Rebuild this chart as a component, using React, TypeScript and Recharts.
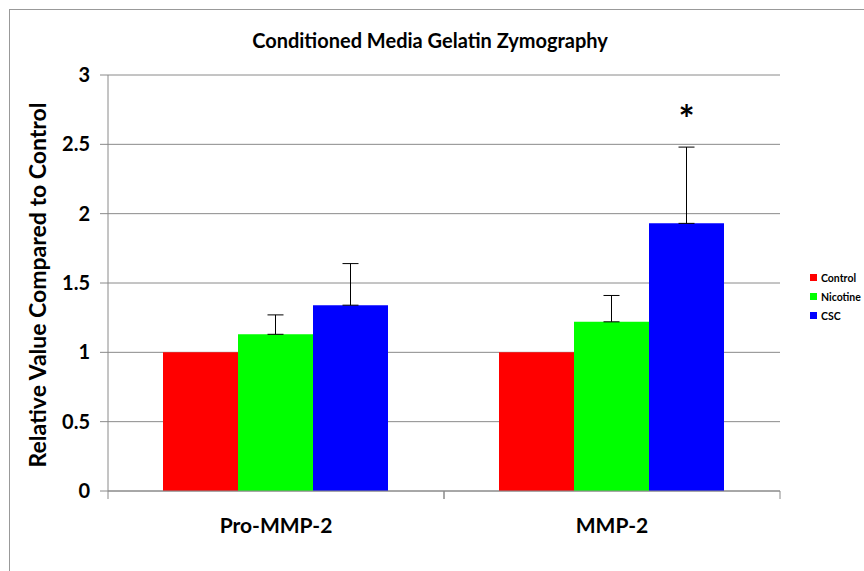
import { BarChart, Bar, XAxis, YAxis, CartesianGrid, ErrorBar, LabelList } from "recharts";

const categories = ["Pro-MMP-2", "MMP-2"];
const control = [1, 1];
const nicotine = [1.13, 1.22];
const nicotineErr = [0.14, 0.19];
const csc = [1.34, 1.93];
const cscErr = [0.3, 0.55];
const marks = ["", "*"];
const yTicks = [0, 0.5, 1, 1.5, 2, 2.5, 3];

const data = categories.map((c, i) => ({
  name: c,
  control: control[i],
  nicotine: nicotine[i],
  nicotineErr: [0, nicotineErr[i]],
  csc: csc[i],
  cscErr: [0, cscErr[i]],
  mark: marks[i],
}));

const font = "Lato, 'Open Sans', sans-serif";
const axisGray = "#8a8a8a";
const BAND = 336;

function XTick(props: any) {
  const { x, y, payload } = props;
  return (
    <g>
      <line x1={x - BAND / 2} y1={y - 8} x2={x - BAND / 2} y2={y} stroke={axisGray} />
      <line x1={x + BAND / 2} y1={y - 8} x2={x + BAND / 2} y2={y} stroke={axisGray} />
      <text x={x} y={y + 34} textAnchor="middle" fontSize={21} fontWeight="bold" fill="#000" fontFamily={font}>
        {payload.value}
      </text>
    </g>
  );
}

function Star(props: any) {
  const { x, y, width, value } = props;
  if (!value) return null;
  return (
    <text x={x + width / 2} y={y - 90} textAnchor="middle" fontSize={38} fontWeight="bold" fill="#000" fontFamily={font}>
      {value}
    </text>
  );
}

const legendItems = [
  { label: "Control", color: "#ff0000" },
  { label: "Nicotine", color: "#00ff00" },
  { label: "CSC", color: "#0000ff" },
];

export default function App() {
  return (
    <div style={{ position: "absolute", left: 0, top: 0, width: 864, height: 571, background: "#fff" }}>
      <div style={{ position: "absolute", left: 9, top: 9, width: 855, height: 562, borderLeft: "1.5px solid #999", borderTop: "1.5px solid #999" }} />
      <div style={{ position: "absolute", left: 0, top: 28, width: 864, textAlign: "center", fontFamily: font, fontWeight: "bold", fontSize: 20 }}>
        <span style={{ position: "relative", left: -2 }}>Conditioned Media Gelatin Zymography</span>
      </div>
      <div
        style={{
          position: "absolute",
          left: 37,
          top: 285,
          transform: "translate(-50%, -50%) rotate(-90deg)",
          whiteSpace: "nowrap",
          fontFamily: font,
          fontWeight: "bold",
          fontSize: 23,
        }}
      >
        Relative Value Compared to Control
      </div>
      <div style={{ position: "absolute", left: 810, top: 268, fontFamily: font, fontSize: 10.5, fontWeight: "bold" }}>
        {legendItems.map((it) => (
          <div key={it.label} style={{ display: "flex", alignItems: "center", height: 19 }}>
            <div style={{ width: 7, height: 7, background: it.color, marginRight: 4 }} />
            <span>{it.label}</span>
          </div>
        ))}
      </div>
      <div style={{ position: "absolute", left: 0, top: 0 }}>
        <BarChart width={864} height={571} data={data} margin={{ top: 75, right: 84, left: 0, bottom: 50 }} barGap={0} barCategoryGap={55}>
          <CartesianGrid vertical={false} stroke={axisGray} strokeWidth={1} />
          <XAxis dataKey="name" height={30} tick={<XTick />} tickLine={false} axisLine={{ stroke: axisGray }} interval={0} />
          <YAxis
            width={108}
            domain={[0, 3]}
            ticks={yTicks}
            tickSize={8}
            tickMargin={10}
            axisLine={{ stroke: axisGray }}
            tickLine={{ stroke: axisGray }}
            tick={{ fontSize: 20, fontWeight: "bold", fill: "#000", fontFamily: font }}
          />
          <Bar dataKey="control" fill="#ff0000" isAnimationActive={false} />
          <Bar dataKey="nicotine" fill="#00ff00" isAnimationActive={false}>
            <ErrorBar dataKey="nicotineErr" width={8} stroke="#000" strokeWidth={1} direction="y" />
          </Bar>
          <Bar dataKey="csc" fill="#0000ff" isAnimationActive={false}>
            <ErrorBar dataKey="cscErr" width={8} stroke="#000" strokeWidth={1} direction="y" />
            <LabelList dataKey="mark" content={<Star />} />
          </Bar>
        </BarChart>
      </div>
    </div>
  );
}
